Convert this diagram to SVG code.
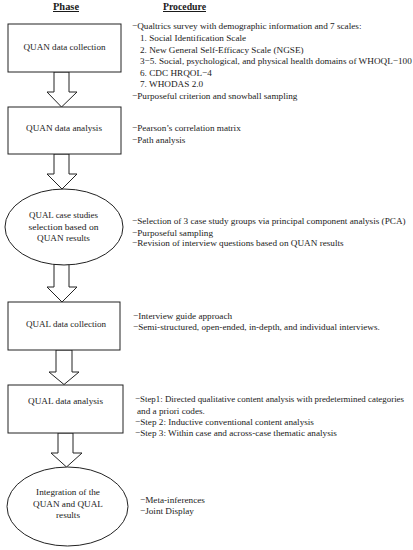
<svg xmlns="http://www.w3.org/2000/svg" width="413" height="550" viewBox="0 0 413 550">
<style>
text{font-family:"Liberation Serif","Times New Roman",serif;font-size:9.2px;fill:#1a1a1a}
.hd{font-weight:bold;font-size:10px;text-decoration:underline}
.c{text-anchor:middle}
.n{fill:#fff;stroke:#222;stroke-width:1}
.ar{fill:#fff;stroke:#222;stroke-width:1;stroke-linejoin:miter}
</style>
<rect width="413" height="550" fill="#fff"/>
<g id="headers">
<text class="hd" x="53" y="10" textLength="26" lengthAdjust="spacingAndGlyphs">Phase</text>
<text class="hd" x="163" y="10" textLength="43" lengthAdjust="spacingAndGlyphs">Procedure</text>
</g>
<g id="connectors">
<polygon class="ar" points="54,72 69,72 69,92 77,92 61.5,107 47,92 54,92"/>
<polygon class="ar" points="54,154 69,154 69,174 77,174 62,189 47,174 54,174"/>
<polygon class="ar" points="54,264.5 69,264.5 69,287 77,287 62,302 47,287 54,287"/>
<polygon class="ar" points="56,350 72,350 72,372 79,372 64,384.5 49,372 56,372"/>
<polygon class="ar" points="58,433 73,433 73,453 82,453 66.5,467 51,453 58,453"/>
</g>
<g id="n1">
<rect class="n" x="8" y="24" width="113" height="48"/>
<text class="c" x="64.5" y="50" textLength="82" lengthAdjust="spacingAndGlyphs">QUAN data collection</text>
</g>
<g id="n2">
<rect class="n" x="8" y="107" width="113" height="47"/>
<text class="c" x="64" y="131" textLength="76" lengthAdjust="spacingAndGlyphs">QUAN data analysis</text>
</g>
<g id="n3">
<ellipse class="n" cx="64" cy="227" rx="59" ry="38"/>
<text class="c" x="63.5" y="218" textLength="69" lengthAdjust="spacingAndGlyphs">QUAL case studies</text>
<text class="c" x="63.5" y="229.5" textLength="70" lengthAdjust="spacingAndGlyphs">selection based on</text>
<text class="c" x="63.5" y="241">QUAN results</text>
</g>
<g id="n4">
<rect class="n" x="8" y="302" width="112" height="48"/>
<text class="c" x="66" y="327" textLength="80" lengthAdjust="spacingAndGlyphs">QUAL data collection</text>
</g>
<g id="n5">
<rect class="n" x="8" y="385" width="115" height="48"/>
<text class="c" x="65.5" y="404" textLength="75" lengthAdjust="spacingAndGlyphs">QUAL data analysis</text>
</g>
<g id="n6">
<ellipse class="n" cx="67.5" cy="506.5" rx="60.5" ry="39.5"/>
<text class="c" x="68" y="495">Integration of the</text>
<text class="c" x="68" y="506.5">QUAN and QUAL</text>
<text class="c" x="68" y="518">results</text>
</g>
<g id="proc1">
<text x="132" y="29">−Qualtrics survey with demographic information and 7 scales:</text>
<text x="140" y="40.5">1. Social Identification Scale</text>
<text x="140" y="52.5">2. New General Self-Efficacy Scale (NGSE)</text>
<text x="140" y="64">3−5. Social, psychological, and physical health domains of WHOQL−100</text>
<text x="140" y="75.5">6. CDC HRQOL−4</text>
<text x="140" y="87">7. WHODAS 2.0</text>
<text x="132" y="99">−Purposeful criterion and snowball sampling</text>
</g>
<g id="proc2">
<text x="132" y="131">−Pearson’s correlation matrix</text>
<text x="132" y="142.5">−Path analysis</text>
</g>
<g id="proc3">
<text x="132" y="224">−Selection of 3 case study groups via principal component analysis (PCA)</text>
<text x="132" y="235.5">−Purposeful sampling</text>
<text x="132" y="246">−Revision of interview questions based on QUAN results</text>
</g>
<g id="proc4">
<text x="133" y="318.5">−Interview guide approach</text>
<text x="133" y="330">−Semi-structured, open-ended, in-depth, and individual interviews.</text>
</g>
<g id="proc5">
<text x="135" y="402" textLength="269" lengthAdjust="spacingAndGlyphs">−Step1: Directed qualitative content analysis with predetermined categories</text>
<text x="137" y="413.5">and a priori codes.</text>
<text x="135" y="425">−Step 2: Inductive conventional content analysis</text>
<text x="135" y="435.5">−Step 3: Within case and across-case thematic analysis</text>
</g>
<g id="proc6">
<text x="140" y="503">−Meta-inferences</text>
<text x="140" y="514">−Joint Display</text>
</g>
</svg>
